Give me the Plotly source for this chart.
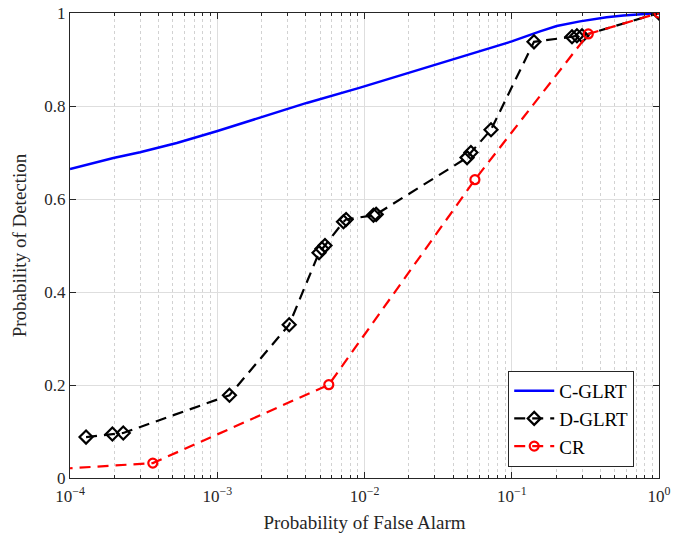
import plotly.graph_objects as go

# C-GLRT (smooth ROC curve)
cg_pfa = [1e-4, 1.97e-4, 2.99e-4, 5.31e-4, 9.91e-4, 1.95e-3, 4.05e-3, 9.22e-3,
          3.26e-2, 5.48e-2, 1.0e-1, 1.556e-1, 2.02e-1, 2.907e-1, 4.41e-1, 5.73e-1,
          8.25e-1, 1.0]
cg_pd = [0.6645, 0.688, 0.7004, 0.7204, 0.7457, 0.7744, 0.8066, 0.8389,
         0.8924, 0.914, 0.9389, 0.9604, 0.9720, 0.982, 0.9910, 0.9945,
         0.9985, 1.0]

# D-GLRT
dg_pfa = [1.285e-4, 1.94e-4, 2.30e-4, 1.21e-3, 3.08e-3, 4.91e-3, 5.14e-3, 5.39e-3,
          7.2e-3, 7.5e-3, 1.15e-2, 1.2e-2, 4.97e-2, 5.28e-2, 7.23e-2,
          1.416e-1, 2.566e-1, 2.77e-1, 3.0e-1, 1.0]
dg_pd = [0.088, 0.0946, 0.0968, 0.178, 0.3297, 0.4845, 0.493, 0.500,
         0.551, 0.556, 0.565, 0.567, 0.689, 0.700, 0.749,
         0.938, 0.949, 0.951, 0.951, 1.0]

# CR
cr_pfa = [5e-5, 3.65e-4, 5.72e-3, 5.62e-2, 3.31e-1, 1.0]
cr_pd = [0.015, 0.032, 0.2006, 0.6415, 0.955, 1.0]

xtick_vals = [1e-4, 1e-3, 1e-2, 1e-1, 1]
xtick_text = ["10<sup>−4</sup>", "10<sup>−3</sup>", "10<sup>−2</sup>", "10<sup>−1</sup>", "10<sup>0</sup>"]
xminor_vals = [m * d for d in [1e-4, 1e-3, 1e-2, 1e-1] for m in range(2, 10)]
ytick_vals = [0, 0.2, 0.4, 0.6, 0.8, 1.0]
ytick_text = ["0", "0.2", "0.4", "0.6", "0.8", "1"]

FONT = "Liberation Serif"
AX = "#262626"
GRID = "#dedede"

fig = go.Figure()
fig.add_trace(go.Scatter(x=cg_pfa, y=cg_pd, mode="lines", name="C-GLRT",
                         line=dict(color="#0000ff", width=2.5)))
fig.add_trace(go.Scatter(x=dg_pfa, y=dg_pd, mode="lines+markers", name="D-GLRT",
                         line=dict(color="black", width=2.2, dash="11px,7px"),
                         marker=dict(symbol="diamond-open", size=10, color="black",
                                     line=dict(width=2.2, color="black"))))
fig.add_trace(go.Scatter(x=cr_pfa, y=cr_pd, mode="lines+markers", name="CR",
                         line=dict(color="#ff0000", width=2.2, dash="11px,7px"),
                         marker=dict(symbol="circle-open", size=9, color="#ff0000",
                                     line=dict(width=2.2, color="#ff0000"))))

fig.update_layout(
    width=688, height=533,
    margin=dict(l=70, r=29, t=13, b=55),
    paper_bgcolor="white", plot_bgcolor="white",
    font=dict(family=FONT, size=16, color=AX),
    showlegend=True,
    legend=dict(x=0.744, y=0.024, xanchor="left", yanchor="bottom",
                bgcolor="white", bordercolor=AX, borderwidth=1,
                font=dict(family=FONT, size=19, color="black"),
                tracegroupgap=0, itemwidth=40),
    xaxis=dict(type="log", range=[-4, 0], tickvals=xtick_vals, ticktext=xtick_text,
               showline=True, linecolor=AX, linewidth=1, mirror="allticks",
               ticks="inside", ticklen=6, tickcolor=AX,
               showgrid=True, gridcolor=GRID, gridwidth=1,
               zeroline=False, ticklabelstandoff=3, automargin=False,
               minor=dict(tickvals=xminor_vals, ticks="inside", ticklen=3, tickcolor=AX,
                          showgrid=True, gridcolor="#d2d2d2", griddash="dot", gridwidth=1),
               title=dict(text="Probability of False Alarm", font=dict(size=19, family=FONT, color=AX)),
               tickfont=dict(size=17, family=FONT, color=AX)),
    yaxis=dict(range=[0, 1], tickvals=ytick_vals, ticktext=ytick_text,
               showline=True, linecolor=AX, linewidth=1, mirror="allticks",
               ticks="inside", ticklen=6, tickcolor=AX, automargin=False,
               showgrid=True, gridcolor=GRID, gridwidth=1, zeroline=False,
               title=dict(text="Probability of Detection", font=dict(size=19, family=FONT, color=AX),
                          standoff=12),
               tickfont=dict(size=17, family=FONT, color=AX)),
)

fig.write_html("out.html")
